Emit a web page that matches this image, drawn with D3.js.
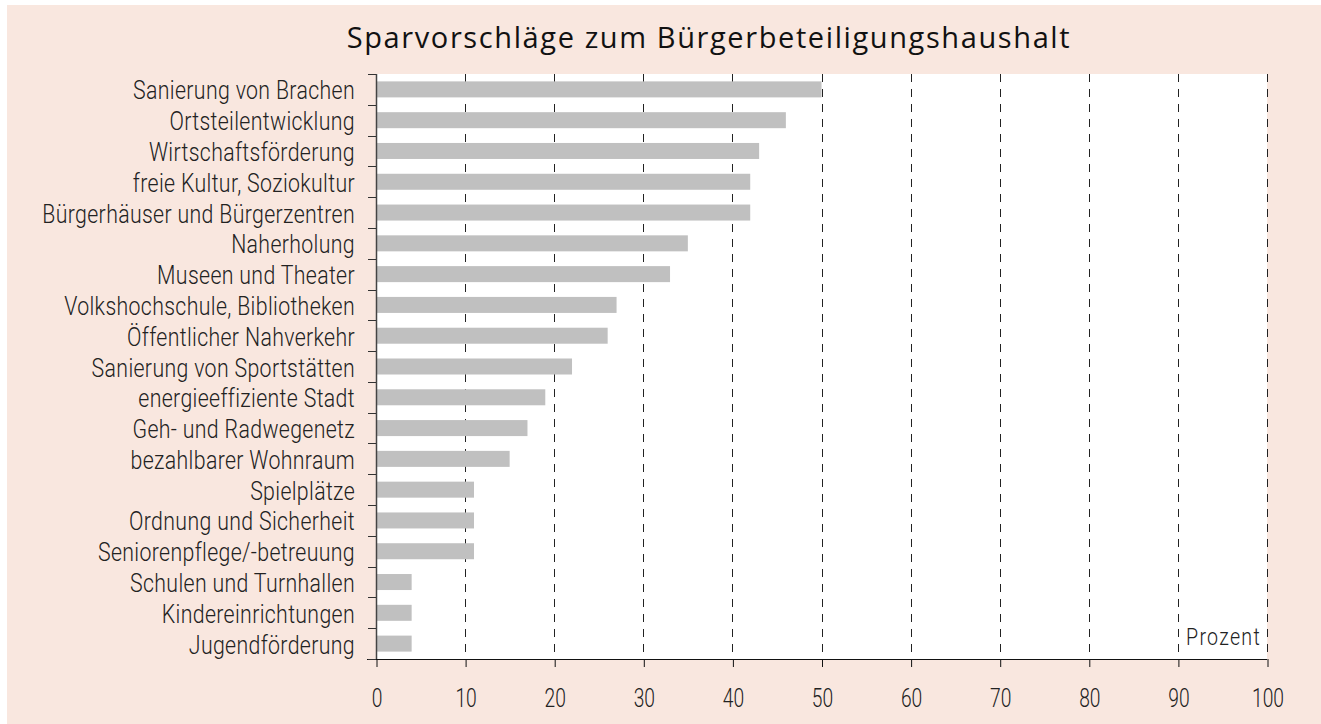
<!DOCTYPE html>
<html>
<head>
<meta charset="utf-8">
<script src="https://cdn.jsdelivr.net/npm/d3@7"></script>
<style>
  html, body { margin: 0; padding: 0; background: #ffffff; }
  svg { display: block; }
</style>
</head>
<body>
<svg id="chart" width="1321" height="724"></svg>
<script>
const categories = [
  "Sanierung von Brachen",
  "Ortsteilentwicklung",
  "Wirtschaftsförderung",
  "freie Kultur, Soziokultur",
  "Bürgerhäuser und Bürgerzentren",
  "Naherholung",
  "Museen und Theater",
  "Volkshochschule, Bibliotheken",
  "Öffentlicher Nahverkehr",
  "Sanierung von Sportstätten",
  "energieeffiziente Stadt",
  "Geh- und Radwegenetz",
  "bezahlbarer Wohnraum",
  "Spielplätze",
  "Ordnung und Sicherheit",
  "Seniorenpflege/-betreuung",
  "Schulen und Turnhallen",
  "Kindereinrichtungen",
  "Jugendförderung"
];
const values = [50, 46, 43, 42, 42, 35, 33, 27, 26, 22, 19, 17, 15, 11, 11, 11, 4, 4, 4];
const xTicks = [0, 10, 20, 30, 40, 50, 60, 70, 80, 90, 100];
const title = "Sparvorschläge zum Bürgerbeteiligungshaushalt";
const unitLabel = "Prozent";

const W = 1321, H = 724;
const svg = d3.select("#chart");
const labelFont = "Roboto, 'Liberation Sans', sans-serif";

// background
svg.append("rect").attr("x", 0).attr("y", 0).attr("width", W).attr("height", H).attr("fill", "#ffffff");
svg.append("rect").attr("x", 7).attr("y", 5).attr("width", W - 7).attr("height", H - 5).attr("fill", "#f9e7df");

const plot = { left: 376, right: 1267, top: 74, bottom: 659 };

const x = d3.scaleLinear().domain([0, 100]).range([plot.left, plot.right]);
const y = d3.scaleBand().domain(categories).range([plot.top, plot.bottom]).paddingInner(0.48).paddingOuter(0.24);
const yb = d3.scaleBand().domain(categories).range([plot.top, plot.bottom]);

// plot background
svg.append("rect")
  .attr("x", plot.left).attr("y", plot.top)
  .attr("width", plot.right - plot.left).attr("height", plot.bottom - plot.top)
  .attr("fill", "#ffffff");

// title
svg.append("text")
  .attr("x", 709).attr("y", 48)
  .attr("text-anchor", "middle")
  .attr("font-family", "'Open Sans', 'Noto Sans', sans-serif")
  .attr("font-size", 29)
  .attr("letter-spacing", "1.6px")
  .attr("fill", "#111")
  .text(title);

// dashed gridlines
svg.append("g").selectAll("line")
  .data(xTicks.filter(d => d > 0))
  .join("line")
  .attr("x1", d => Math.round(x(d)) + 0.5).attr("x2", d => Math.round(x(d)) + 0.5)
  .attr("y1", plot.top).attr("y2", plot.bottom)
  .attr("stroke", "#222").attr("stroke-width", 1)
  .attr("stroke-dasharray", "8,7");

// bars
svg.append("g").selectAll("rect")
  .data(categories)
  .join("rect")
  .attr("x", x(0) + 1)
  .attr("y", d => y(d))
  .attr("width", (d, i) => x(values[i]) - x(0) - 1)
  .attr("height", y.bandwidth())
  .attr("fill", "#c0c0c0");

// measuring helper for horizontal condensation
function measure(str, size, ls) {
  const t = svg.append("text").attr("font-family", labelFont).attr("font-size", size)
    .attr("font-weight", 300).attr("letter-spacing", ls).text(str);
  const w = t.node().getComputedTextLength();
  t.remove();
  return w;
}
const fs = 25;
const kY = 222 / measure("Sanierung von Brachen", fs, "0.4px");
const kX = 32 / measure("100", fs, "0px");
const kU = 75 / measure(unitLabel, 23, "1.5px");

// x axis
const xAxis = d3.axisBottom(x).tickValues(xTicks).tickSize(8).tickFormat("");
const gx = svg.append("g").attr("transform", `translate(0,${plot.bottom})`).call(xAxis);
gx.select(".domain").remove();
gx.append("line").attr("x1", 367).attr("x2", plot.right).attr("y1", 0.5).attr("y2", 0.5).attr("stroke", "#111");
gx.selectAll(".tick line").attr("stroke", "#111").attr("transform", "translate(0.5,0)");
gx.selectAll(".tick").append("text")
  .attr("transform", `translate(0.5,48) scale(${kX},1)`)
  .attr("text-anchor", "middle")
  .attr("font-family", labelFont)
  .attr("font-weight", 300)
  .attr("font-size", fs)
  .attr("fill", "#222")
  .text(d => d3.format("d")(d));

// y axis
const yAxis = d3.axisLeft(yb).tickSize(0).tickFormat("");
const gy = svg.append("g").attr("transform", `translate(${plot.left},0)`).call(yAxis);
gy.select(".domain").remove();
gy.append("line").attr("x1", 0.5).attr("x2", 0.5).attr("y1", plot.top).attr("y2", plot.bottom).attr("stroke", "#444").attr("stroke-width", 1.5);
gy.selectAll(".tick").append("text")
  .attr("transform", `translate(-21,10) scale(${kY},1)`)
  .attr("text-anchor", "end")
  .attr("font-family", labelFont)
  .attr("font-weight", 300)
  .attr("font-size", fs)
  .attr("letter-spacing", "0.4px")
  .attr("fill", "#222")
  .text(d => d);
// boundary ticks
const bounds = categories.map(c => yb(c)).concat([plot.bottom]);
gy.append("g").selectAll("line")
  .data(bounds)
  .join("line")
  .attr("x1", -8).attr("x2", 0)
  .attr("y1", d => Math.round(d) + 0.5).attr("y2", d => Math.round(d) + 0.5)
  .attr("stroke", "#333").attr("stroke-width", 1);

// unit label
svg.append("text")
  .attr("transform", `translate(1261,645) scale(${kU},1)`)
  .attr("text-anchor", "end")
  .attr("font-family", labelFont)
  .attr("font-weight", 300)
  .attr("font-size", 23)
  .attr("letter-spacing", "1.5px")
  .attr("fill", "#222")
  .text(unitLabel);
</script>
</body>
</html>
